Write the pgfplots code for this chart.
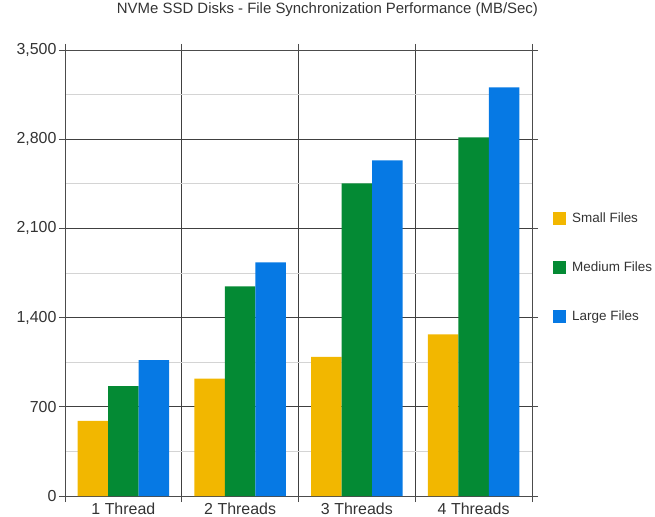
\documentclass[border=0pt]{standalone}
\usepackage{pgfplots}
\pgfplotsset{compat=1.18}
\usepackage{fontspec}
\setmainfont{Liberation Sans}

\definecolor{smallc}{RGB}{242,183,0}
\definecolor{mediumc}{RGB}{4,138,52}
\definecolor{largec}{RGB}{6,121,228}
\definecolor{txt}{RGB}{51,51,51}

\begin{document}
\begin{tikzpicture}
\begin{axis}[
  at={(0,0)}, anchor=south west,
  scale only axis, width=467bp, height=446bp,
  xmin=-0.5, xmax=3.5, ymin=0, ymax=3500,
  ybar=0pt, bar width=30.5bp,
  ytick={0,700,...,3500},
  minor ytick={350,1050,...,3150},
  ymajorgrids, yminorgrids, xmajorgrids,
  xtick={-0.5,0.5,1.5,2.5,3.5}, xticklabels={},
  extra x ticks={0,1,2,3},
  extra x tick labels={1 Thread,2 Threads,3 Threads,4 Threads},
  extra x tick style={grid=none, major tick length=0pt,
    tick label style={yshift=-3bp}},
  major grid style={draw=black!75, line width=0.9pt},
  minor grid style={draw=black!17, line width=0.9pt},
  axis line style={draw=black!70, line width=0.9pt},
  tick align=outside, major tick length=6bp, minor tick length=0pt,
  tick style={draw=black!70, line width=0.8pt},
  ticklabel style={font=\fontsize{16}{18}\selectfont, text=txt},
  y tick label style={xshift=1bp},
  /pgf/number format/assume math mode=true,
  /pgf/number format/1000 sep={,},
  title={NVMe SSD Disks - File Synchronization Performance (MB/Sec)},
  title style={at={(0.562,1)}, anchor=base, yshift=31bp,
    font=\fontsize{15}{17}\selectfont, text=txt},
  legend style={at={(1.045,0.64)}, anchor=north west, draw=none, fill=none,
    inner sep=0pt, row sep=34bp, font=\fontsize{13.5}{15}\selectfont, text=txt,
    nodes={inner xsep=6bp}},
  legend cell align=left,
  legend image code/.code={\fill[#1] (0bp,-6.5bp) rectangle (13bp,6.5bp);},
]
\addplot[fill=smallc, draw=none] coordinates {(0,590) (1,922) (2,1092) (3,1268)};
\addlegendentry{Small Files}
\addplot[fill=mediumc, draw=none] coordinates {(0,862) (1,1646) (2,2453) (3,2814)};
\addlegendentry{Medium Files}
\addplot[fill=largec, draw=none] coordinates {(0,1066) (1,1833) (2,2634) (3,3206)};
\addlegendentry{Large Files}
\end{axis}
\pgfresetboundingbox
\path[use as bounding box] (-65bp,-21bp) rectangle (590bp,496bp);
\end{tikzpicture}
\end{document}
